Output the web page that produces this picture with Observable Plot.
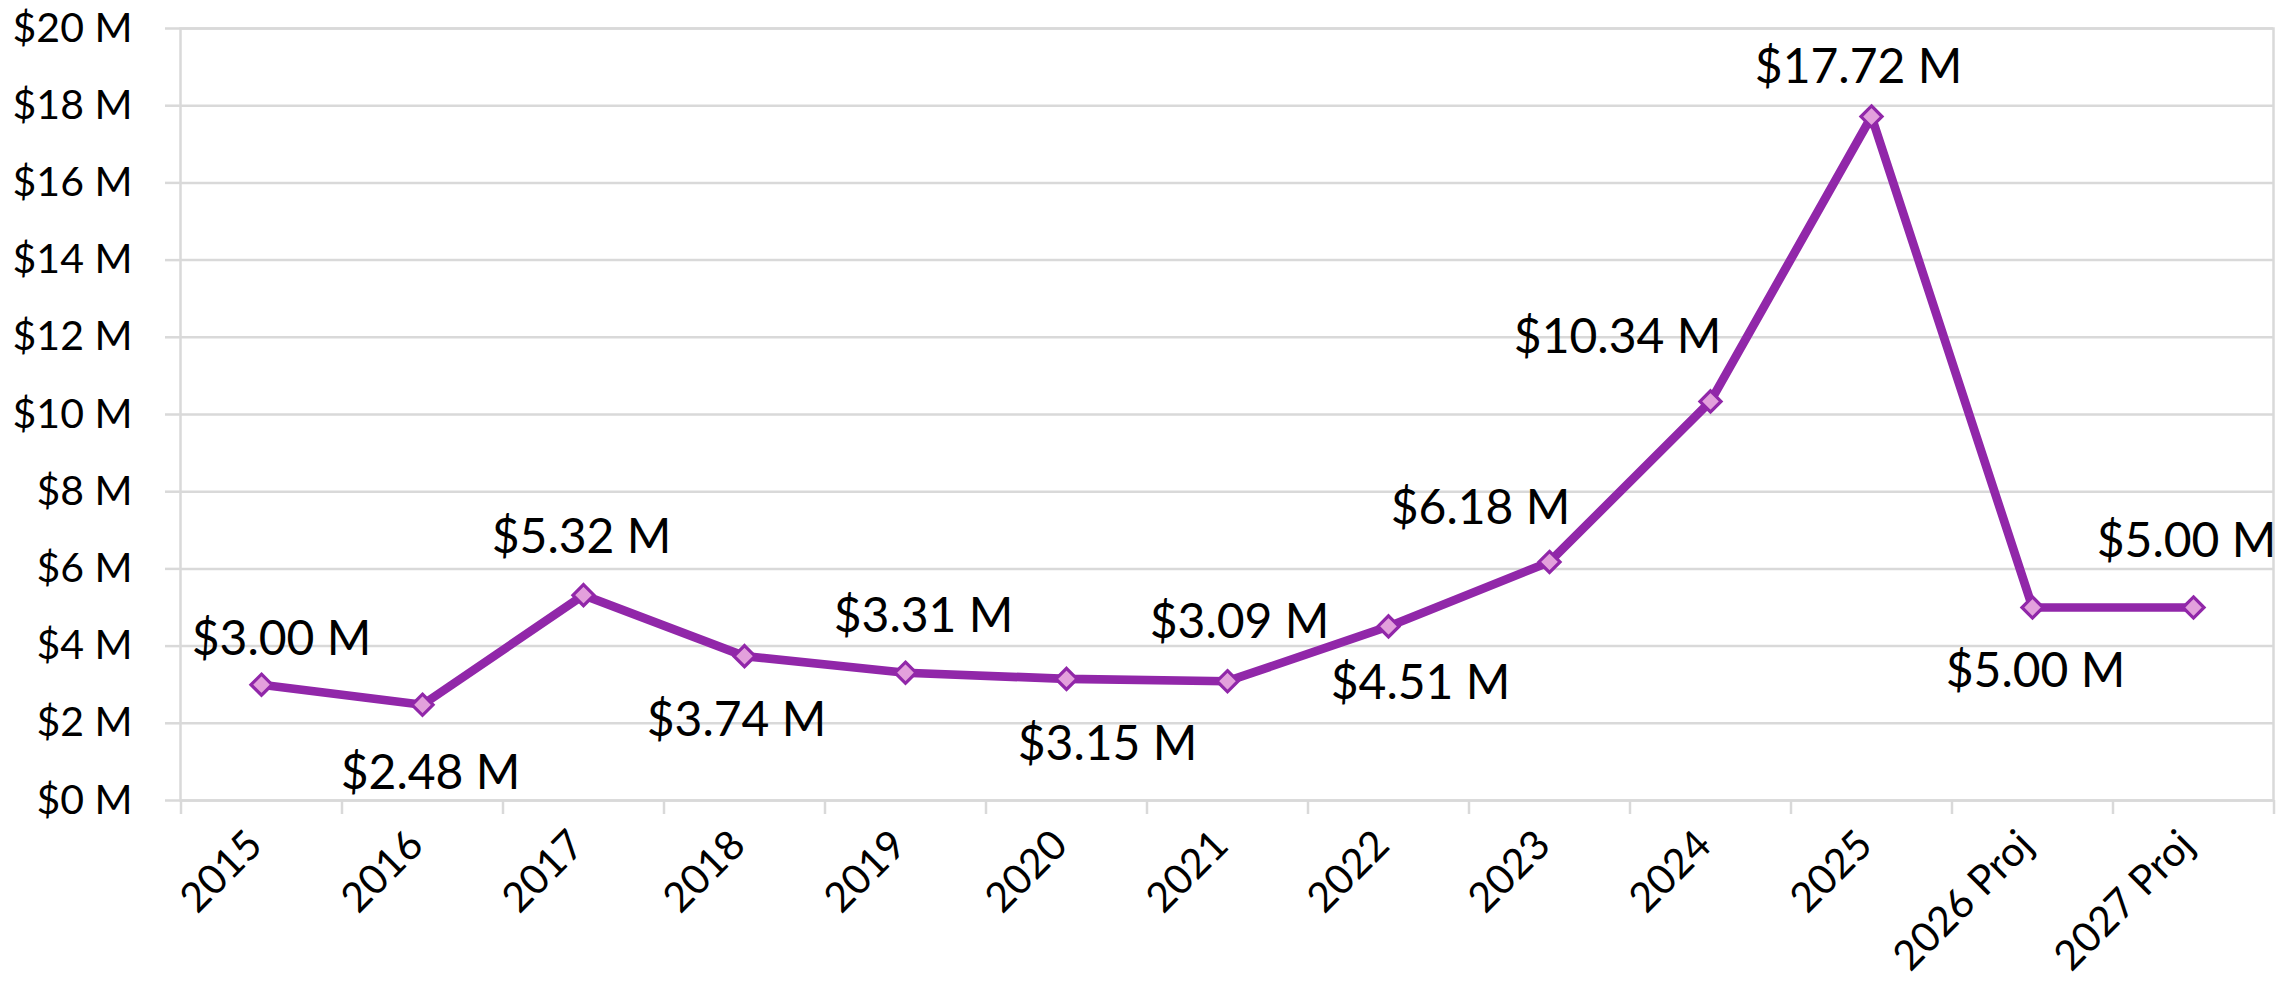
<!DOCTYPE html>
<html>
<head>
<meta charset="utf-8">
<script src="https://cdn.jsdelivr.net/npm/d3@7"></script>
<script src="https://cdn.jsdelivr.net/npm/@observablehq/plot@0.6"></script>
<style>
  html, body { margin: 0; padding: 0; background: #ffffff; }
  #chart svg { display: block; }
</style>
</head>
<body>
<div id="chart"></div>
<script>
// ---- Data ----
const categories = ["2015", "2016", "2017", "2018", "2019", "2020", "2021", "2022", "2023", "2024", "2025", "2026 Proj", "2027 Proj"];
const values = [3.00, 2.48, 5.32, 3.74, 3.31, 3.15, 3.09, 4.51, 6.18, 10.34, 17.72, 5.00, 5.00];
const yTicks = [0, 2, 4, 6, 8, 10, 12, 14, 16, 18, 20];

// ---- Layout (label placement, pixels) ----
const labelDx = [20, 8, -2, -8, 18, 41, 12, 32, -69, -93, -13, 3, -7];
const labelDy = [-45, 69, -58, 64, -56, 66, -59, 57, -53, -64, -49, 64, -66];

const W = 2292, H = 996;
const mL = 180, mR = 19, mT = 28, mB = 196;
const step = (W - mL - mR) / categories.length;

const lineColor = "#9127A9";
const markerFill = "#E3A0DC";
const gridColor = "#D9D9D9";
const fmtAxis = d => `$${d} M`;
const fmtLabel = d => `$${d.toFixed(2)} M`;

const data = categories.map((c, i) => ({ category: c, value: values[i] }));

const labelMarks = data.map((d, i) =>
  Plot.text([d], {
    x: "category", y: "value", text: d => fmtLabel(d.value),
    dx: labelDx[i], dy: labelDy[i], fontSize: 48, fill: "#000"
  })
);

const chart = Plot.plot({
  width: W, height: H,
  marginLeft: mL, marginRight: mR, marginTop: mT, marginBottom: mB,
  style: { fontFamily: "Lato, 'Open Sans', sans-serif", background: "#ffffff", color: "#000", overflow: "visible" },
  x: { type: "point", domain: categories, padding: 0.5, axis: null },
  y: { domain: [0, 20], axis: null },
  marks: [
    Plot.gridY(yTicks, { stroke: gridColor, strokeOpacity: 1, strokeWidth: 2.5 }),
    Plot.frame({ stroke: gridColor, strokeWidth: 2.5 }),
    Plot.axisY(yTicks, { label: null, tickSize: 15, tickFormat: () => "", stroke: gridColor, strokeWidth: 2.5, strokeOpacity: 1 }),
    Plot.axisX(categories, { label: null, tickSize: 14, dx: -step / 2, tickFormat: () => "", stroke: gridColor, strokeWidth: 2.5, strokeOpacity: 1 }),
    Plot.axisX([categories[categories.length - 1]], { label: null, tickSize: 14, dx: step / 2, tickFormat: () => "", stroke: gridColor, strokeWidth: 2.5, strokeOpacity: 1 }),
    Plot.text(yTicks, { y: d => d, text: fmtAxis, frameAnchor: "left", textAnchor: "end", dx: -48, fontSize: 41, fill: "#000" }),
    Plot.text(categories, { x: d => d, text: d => d, frameAnchor: "bottom", rotate: -45, textAnchor: "end", dx: 3, dy: 47, fontSize: 41, fill: "#000" }),
    Plot.line(data, { x: "category", y: "value", stroke: lineColor, strokeWidth: 8.7, strokeLinejoin: "round" }),
    Plot.dot(data, { x: "category", y: "value", symbol: "diamond2", r: 9.5, fill: markerFill, stroke: lineColor, strokeWidth: 3.2 }),
    ...labelMarks
  ]
});

document.getElementById("chart").appendChild(chart);
</script>
</body>
</html>
